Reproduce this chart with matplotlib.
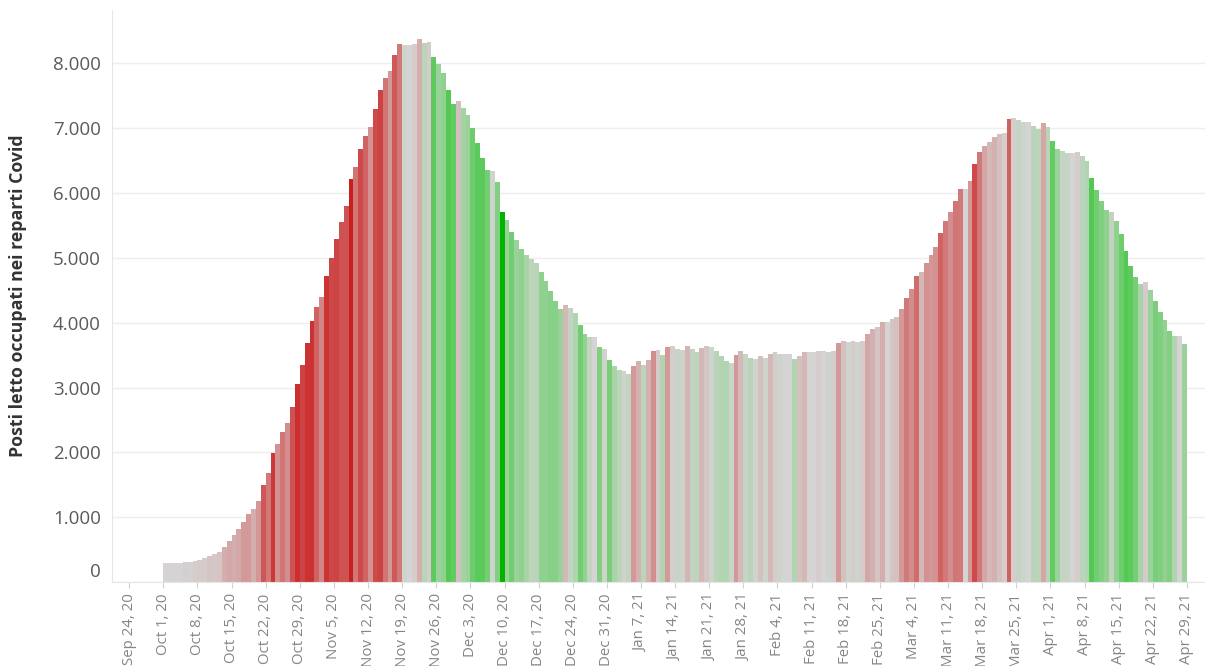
import matplotlib
matplotlib.use("Agg")
import matplotlib.pyplot as plt
import matplotlib.dates as mdates
import matplotlib.transforms as mtransforms
from matplotlib.colors import LinearSegmentedColormap, Normalize
import numpy as np
import pandas as pd

# daily hospital beds occupied, Oct 1 2020 -> Apr 28 2021
start_date = "2020-10-01"
beds = [
    290, 291, 293, 296, 306, 311, 327, 347, 368, 404,
    430, 465, 547, 640, 722, 815, 933, 1051, 1133, 1256,
    1502, 1678, 1996, 2130, 2310, 2449, 2705, 3054, 3347, 3682,
    4020, 4236, 4390, 4719, 5001, 5289, 5546, 5803, 6214, 6394,
    6672, 6882, 7016, 7293, 7586, 7766, 7884, 8120, 8295, 8275,
    8275, 8290, 8372, 8310, 8331, 8100, 7981, 7843, 7586, 7370,
    7416, 7313, 7195, 7000, 6764, 6532, 6352, 6332, 6172, 5705,
    5582, 5392, 5274, 5135, 5037, 4981, 4919, 4780, 4642, 4488,
    4334, 4210, 4272, 4231, 4149, 3959, 3825, 3779, 3779, 3620,
    3600, 3425, 3327, 3271, 3250, 3209, 3327, 3404, 3348, 3425,
    3564, 3584, 3502, 3620, 3637, 3601, 3576, 3643, 3601, 3545,
    3607, 3643, 3622, 3560, 3483, 3406, 3380, 3503, 3560, 3524,
    3462, 3442, 3483, 3462, 3524, 3545, 3524, 3524, 3524, 3442,
    3483, 3545, 3545, 3545, 3560, 3560, 3545, 3560, 3681, 3722,
    3701, 3722, 3701, 3722, 3820, 3897, 3933, 4015, 4015, 4051,
    4092, 4210, 4385, 4523, 4719, 4780, 4914, 5037, 5171, 5387,
    5562, 5700, 5880, 6055, 6055, 6179, 6451, 6626, 6724, 6785,
    6862, 6903, 6919, 7138, 7153, 7117, 7097, 7097, 7035, 6979,
    7076, 7015, 6800, 6682, 6646, 6610, 6610, 6626, 6564, 6487,
    6230, 6040, 5880, 5741, 5700, 5562, 5367, 5110, 4879, 4699,
    4601, 4621, 4503, 4328, 4169, 4036, 3877, 3794, 3794, 3676,
]
tick_start = "2020-09-24"
tick_end = "2021-04-29"
y_ticks = [0, 1000, 2000, 3000, 4000, 5000, 6000, 7000, 8000]
y_title = "Posti letto occupati nei reparti Covid"

dates = pd.date_range(start_date, periods=len(beds), freq="D")
values = np.array(beds, dtype=float)
change = np.diff(values, prepend=values[0])

# diverging palette: green (drop) -> grey -> red (rise)
cmap = LinearSegmentedColormap.from_list(
    "redgreen",
    [
        (0.0, "#00b400"),
        (0.275, "#64cc64"),
        (0.40, "#aad4aa"),
        (0.5, "#d5d4d4"),
        (0.60, "#d4a8a8"),
        (0.725, "#d06464"),
        (0.85, "#cc3434"),
        (1.0, "#c81010"),
    ],
)
norm = Normalize(vmin=-470, vmax=470, clip=True)
colors = cmap(norm(change))

fig = plt.figure(figsize=(12.05, 6.66), dpi=100)
ax = fig.add_axes([112 / 1205, 83.8 / 666, 1093 / 1205, 572.2 / 666])

x = mdates.date2num(dates)
ax.bar(x, values, width=1.0, align="edge", color=colors, linewidth=0, antialiased=False, zorder=2)

x0 = mdates.date2num(pd.Timestamp(start_date))
ax.set_xlim(x0 - 10.52, x0 + 213.7)
ax.set_ylim(0, 8818)

ticks = pd.date_range(tick_start, tick_end, freq="7D")
ax.set_xticks(mdates.date2num(ticks))
ax.set_xticklabels([f"{d:%b} {d.day}, {d:%y}" for d in ticks], rotation=90,
                   fontsize=10.8, color="#858585", family="Open Sans")
ax.tick_params(axis="x", length=4, width=0.8, color="#d0d0d0", pad=4)

ax.set_yticks(y_ticks)
ax.set_yticklabels([f"{v:,}".replace(",", ".") for v in y_ticks],
                   fontsize=13.5, color="#5a5a5a", family="Open Sans")
ax.tick_params(axis="y", length=0, pad=8)
# lift the zero label off the baseline
zero_label = ax.get_yticklabels()[0]
zero_label.set_transform(zero_label.get_transform()
                         + mtransforms.ScaledTranslation(0, 0.12, fig.dpi_scale_trans))

ax.set_ylabel(y_title, fontsize=12.8, fontweight="bold", color="#333333", family="Open Sans")
ax.yaxis.set_label_coords(-0.078, 0.5)

ax.grid(axis="y", color="#eeeeee", linewidth=1)
ax.set_axisbelow(True)
for side in ["top", "right"]:
    ax.spines[side].set_visible(False)
ax.spines["left"].set_color("#e6e6e6")
ax.spines["bottom"].set_color("#e6e6e6")

fig.savefig("out.png", dpi=100)
